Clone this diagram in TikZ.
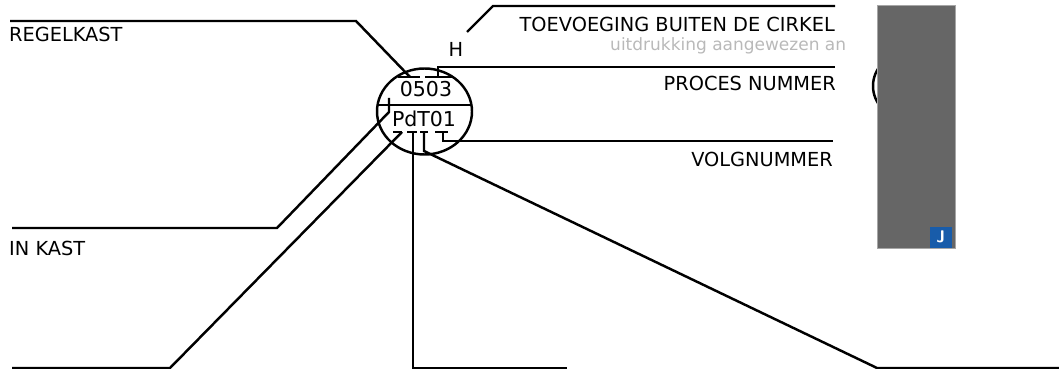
\documentclass[tikz,border=0pt]{standalone}
\usepackage{fontspec}
\setmainfont{DejaVu Sans}
\usepackage{xcolor}
\usetikzlibrary{positioning}
\definecolor{scangray}{RGB}{102,102,102}
\definecolor{ghostgray}{RGB}{185,185,185}
\definecolor{tagblue}{RGB}{24,92,170}
\tikzset{
  leader/.style={
    line width=2.1pt,
    draw=black,
    line join=miter
  },
  lbl/.style={
    inner sep=0pt,
    font=\fontsize{16.5}{19}\selectfont
  },
  tagtext/.style={
    inner sep=0pt,
    font=\fontsize{17.5}{20}\selectfont
  }
}

\begin{document}
\begin{tikzpicture}[x=0.03cm,y=-0.03cm]
\useasboundingbox (0,0) rectangle (1059,369);

% instrument bubble
\coordinate (ctr) at (424.5,111.5);
\draw[leader] (ctr) ellipse [x radius=47.5, y radius=43];
\coordinate (divl) at (377.5,105);
\coordinate (divr) at (471.5,105);
\draw[leader] (divl) -- (divr);

\node[tagtext, anchor=base] (kast) at (426,97) {0503};
\node[tagtext, anchor=base] (tag) at (424,127) {PdT01};
\node[lbl, anchor=base] (hlbl) at (456,57) {H};

% labels
\node[lbl, anchor=base west] (regel) at (9,42) {REGELKAST};
\node[lbl, anchor=base west] (inkast) at (9,255) {IN KAST};
\node[lbl, anchor=base east] (toev) at (835,32) {TOEVOEGING BUITEN DE CIRKEL};
\node[lbl, anchor=base west, text=ghostgray, font=\fontsize{14.5}{17}\selectfont] (ghost) at (610,51) {uitdrukking aangewezen an};
\node[lbl, anchor=base east] (proces) at (836,91) {PROCES NUMMER};
\node[lbl, anchor=base east] (volg) at (833,167) {VOLGNUMMER};

% marks above and below the texts
\coordinate (ova) at (398,77);  \coordinate (ovb) at (420,77);
\coordinate (ovc) at (425,77);  \coordinate (ovd) at (452,77);
\coordinate (una) at (393,132); \coordinate (unb) at (402,132);
\coordinate (unc) at (407,132); \coordinate (und) at (417,132);
\coordinate (une) at (420,132); \coordinate (unf) at (428,132);
\coordinate (ung) at (435,132); \coordinate (unh) at (448,132);
\draw[leader] (ova) -- (ovb);
\draw[leader] (ovc) -- (ovd);
\draw[leader] (una) -- (unb);
\draw[leader] (unc) -- (und);
\draw[leader] (une) -- (unf);
\draw[leader] (ung) -- (unh);

% leader lines
\coordinate (regelend) at (10,21);
\draw[leader] (regelend) -- (356,21) -- (410,77);
\coordinate (toevend) at (835,6);
\draw[leader] (467,32) -- (493,6) -- (toevend);
\coordinate (procesend) at (835,67);
\draw[leader] (438,77) -- (438,67) -- (procesend);
\coordinate (inkastend) at (12,228);
\draw[leader] (inkastend) -- (277,228) -- (389,112) -- (389,98);
\coordinate (lowleft) at (12,368);
\draw[leader] (lowleft) -- (170,368) -- (unb);
\coordinate (lowmid) at (567,368);
\draw[leader] (413,132) -- (413,368) -- (lowmid);
\coordinate (lowright) at (1059,368);
\draw[leader] (424,132) -- (424,151) -- (877,368) -- (lowright);
\coordinate (volgend) at (833,141);
\draw[leader] (443,132) -- (443,141) -- (volgend);

% covered part at the right
\draw[leader] (905,86) ++(135:32) arc [start angle=135, end angle=225, radius=32];
\node[draw=black!35, line width=0.4pt, fill=scangray, inner sep=0pt, anchor=north west,
      minimum width=2.34cm, minimum height=7.29cm] (cover) at (877,5) {};
\node[fill=tagblue, inner sep=0pt, minimum width=0.66cm, minimum height=0.63cm,
      anchor=south east, text=white, font=\sffamily\bfseries\Large] (jtag) at (952,248) {J};
\end{tikzpicture}
\end{document}
